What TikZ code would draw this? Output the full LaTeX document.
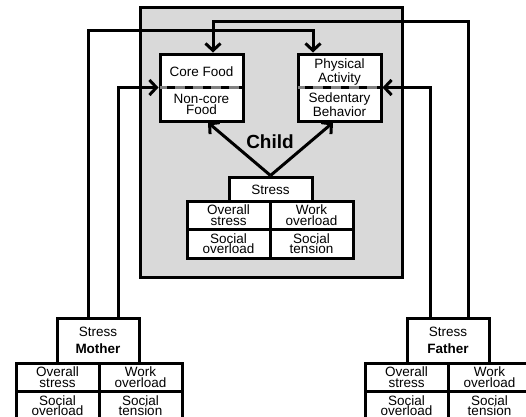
\documentclass[tikz,border=0pt]{standalone}
\usepackage{fontspec}
\setmainfont{Liberation Sans}
\usetikzlibrary{arrows.meta}
\begin{document}
\begin{tikzpicture}[x=1pt,y=-1pt,
        box/.style={draw,line width=3pt,fill=white,minimum width=83pt,inner sep=0pt,align=center,font=\fontsize{13.5}{10.5}\selectfont},
        cell/.style={box,minimum height=28.5pt},
        txt/.style={align=center,inner sep=0pt,font=\fontsize{13.5}{10.5}\selectfont},
        conn/.style={line width=3pt,-{Straight Barb[length=7pt,width=15pt]}},
        divider/.style={line width=2.6pt,shorten <=1.5pt,shorten >=1.5pt}]
        \useasboundingbox (0,0) rectangle (526,416);
        \clip (0,0) rectangle (526,416);

        % Kind
        \node[draw,line width=3pt,fill=gray!30,minimum width=262pt,minimum height=270pt] (child) at (271,142) {};
        \node[font=\fontsize{19}{19}\selectfont\bfseries] (childlabel) at (270,142) {Child};

        % Ernaehrung und Bewegung
        \node[box,minimum height=67pt] (food) at (201.5,87.5) {};
        \node[txt] (corefood) at (201.5,72) {Core Food};
        \node[txt] (noncore) at (201.5,104.5) {Non-core\\Food};
        \node[box,minimum height=67pt] (phys) at (339.5,87.5) {};
        \node[txt] (activity) at (339.5,72) {Physical\\Activity};
        \node[txt] (sedentary) at (339.5,104.5) {Sedentary\\Behavior};
        \foreach \b in {food,phys} {
            \draw[divider,gray] (\b.west) -- (\b.east);
            \draw[divider,dash pattern=on 8pt off 10pt,dash phase=-7pt] (\b.west) -- (\b.east);
        }

        % Stress
        \node[box,minimum height=25pt] (stress) at (270.5,189.5) {Stress};
        \node[box,minimum width=82pt,minimum height=45pt] (mother) at (98,340.5) {Stress\\[6.5pt]\textbf{Mother}};
        \node[box,minimum width=82pt,minimum height=45pt] (father) at (448,340.5) {Stress\\[6.5pt]\textbf{Father}};
        \foreach \nm/\cx/\cy in {c/270/229.5, m/99/391.5, f/448/391.5} {
            \node[cell] (\nm1) at (\cx-41.5,\cy-14.25) {Overall\\stress};
            \node[cell] (\nm2) at (\cx+41.5,\cy-14.25) {Work\\overload};
            \node[cell] (\nm3) at (\cx-41.5,\cy+14.25) {Social\\overload};
            \node[cell] (\nm4) at (\cx+41.5,\cy+14.25) {Social\\tension};
        }

        % Pfeile
        \draw[conn] (stress.north) -- ([xshift=6.5pt]food.south);
        \draw[conn] (stress.north) -- ([xshift=-6.5pt]phys.south);
        \draw[conn] ([xshift=-10pt]mother.north) |- ([xshift=-26.5pt,yshift=22pt]phys.north) -- ([xshift=-26.5pt]phys.north);
        \draw[conn] ([xshift=20pt]mother.north) |- (food.west);
        \draw[conn] ([xshift=20pt]father.north) |- ([xshift=11.5pt,yshift=31pt]food.north) -- ([xshift=11.5pt]food.north);
        \draw[conn] ([xshift=-18pt]father.north) |- (phys.east);
    \end{tikzpicture}
\end{document}
